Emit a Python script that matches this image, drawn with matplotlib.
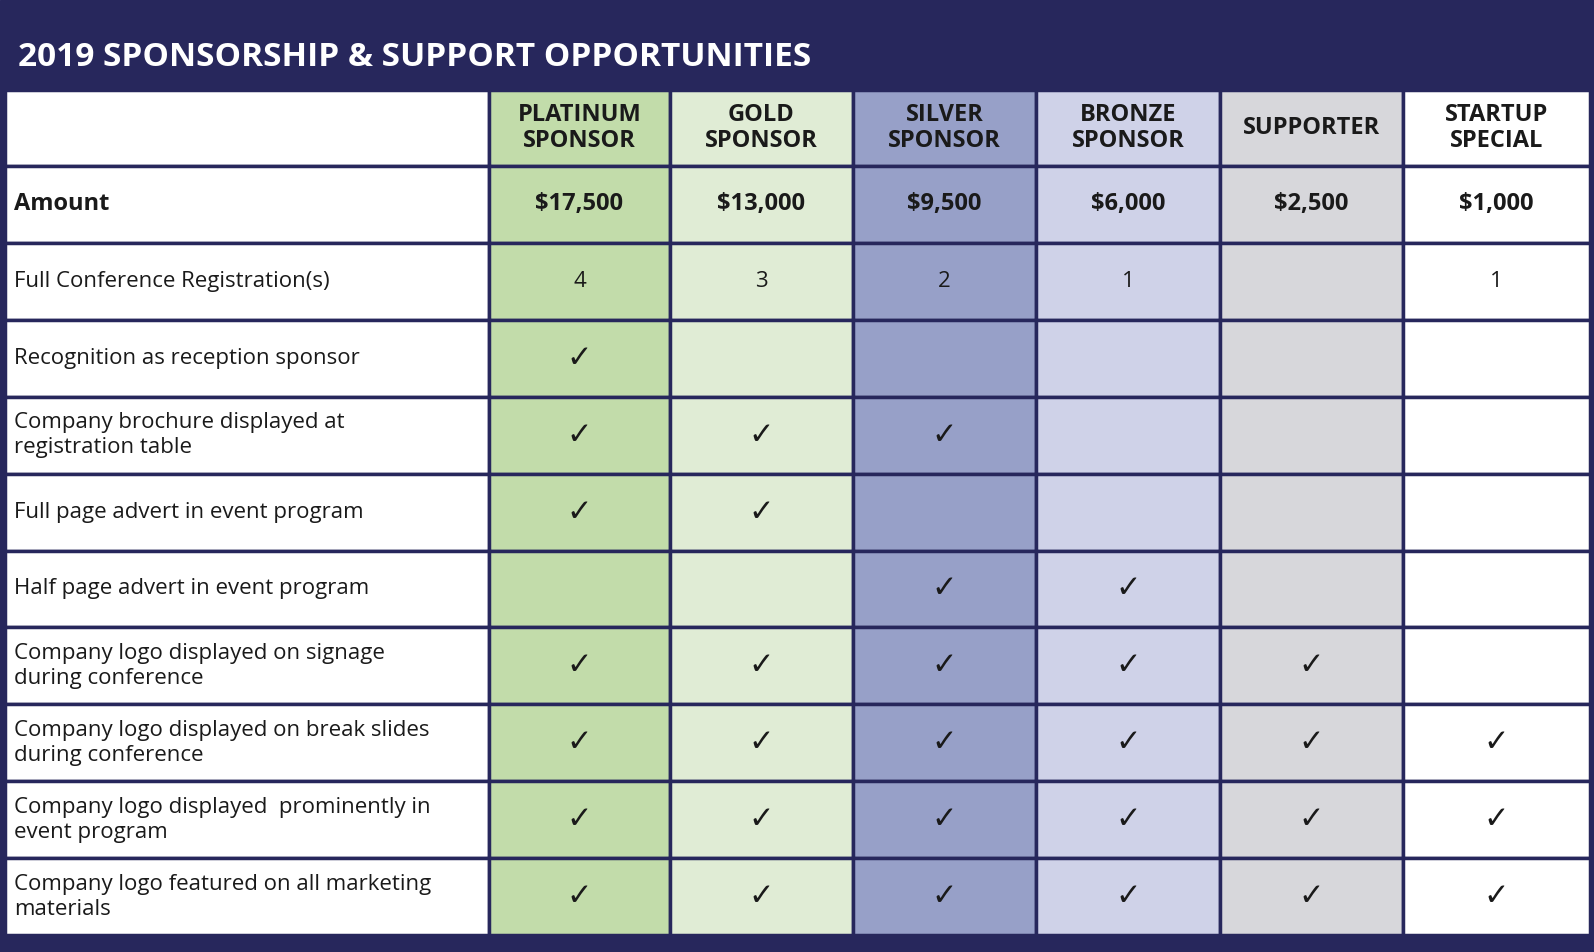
import matplotlib
matplotlib.use("Agg")
import matplotlib.pyplot as plt
from matplotlib.patches import Rectangle

# data
title = "2019 SPONSORSHIP & SUPPORT OPPORTUNITIES"
tiers = ["PLATINUM\nSPONSOR", "GOLD\nSPONSOR", "SILVER\nSPONSOR", "BRONZE\nSPONSOR", "SUPPORTER", "STARTUP\nSPECIAL"]
amounts = ["$17,500", "$13,000", "$9,500", "$6,000", "$2,500", "$1,000"]
features = ["Full Conference Registration(s)",
            "Recognition as reception sponsor",
            "Company brochure displayed at\nregistration table",
            "Full page advert in event program",
            "Half page advert in event program",
            "Company logo displayed on signage\nduring conference",
            "Company logo displayed on break slides\nduring conference",
            "Company logo displayed  prominently in\nevent program",
            "Company logo featured on all marketing\nmaterials"]
registrations = ["4", "3", "2", "1", "", "1"]
# 1 = tick, 0 = empty (rows after registrations)
ticks = [[1, 0, 0, 0, 0, 0],
         [1, 1, 1, 0, 0, 0],
         [1, 1, 0, 0, 0, 0],
         [0, 0, 1, 1, 0, 0],
         [1, 1, 1, 1, 1, 0],
         [1, 1, 1, 1, 1, 1],
         [1, 1, 1, 1, 1, 1],
         [1, 1, 1, 1, 1, 1]]

navy = "#27275c"
colcolors = ["#c2dcaa", "#e0ecd5", "#97a0c8", "#cfd2e8", "#d7d7db", "#ffffff"]

W, H = 1594, 952
fig = plt.figure(figsize=(W / 100, H / 100), dpi=100)
ax = fig.add_axes([0, 0, 1, 1])
ax.set_xlim(0, W)
ax.set_ylim(H, 0)
ax.axis("off")

ax.add_patch(Rectangle((0, 0), W, H, color=navy))
ax.text(18, 58, title, color="white", fontsize=24, fontweight="bold",
        family="Open Sans", va="center", ha="left")

xs = [5, 489, 670, 853, 1036, 1220, 1403, 1590]
head_top, head_bot = 90, 166
row_h = (935 - head_bot) / 10.0
ys = [head_top, head_bot] + [head_bot + row_h * (i + 1) for i in range(10)]

nrows = len(ys) - 1
for r in range(nrows):
    for c in range(len(xs) - 1):
        fc = "white" if c == 0 else colcolors[c - 1]
        ax.add_patch(Rectangle((xs[c], ys[r]), xs[c + 1] - xs[c], ys[r + 1] - ys[r],
                               facecolor=fc, edgecolor=navy, lw=2.5))

def cx(c):
    return (xs[c + 1] + xs[c]) / 2

def cy(r):
    return (ys[r + 1] + ys[r]) / 2

tf = dict(family="Open Sans", color="#1a1a1a")
for i, t in enumerate(tiers):
    ax.text(cx(i + 1), cy(0), t, ha="center", va="center", fontsize=17,
            fontweight="bold", linespacing=1.15, **tf)

ax.text(14, cy(1), "Amount", ha="left", va="center", fontsize=17, fontweight="bold", **tf)
for i, a in enumerate(amounts):
    ax.text(cx(i + 1), cy(1), a, ha="center", va="center", fontsize=17, fontweight="bold", **tf)

for r, f in enumerate(features):
    ax.text(14, cy(r + 2), f, ha="left", va="center", fontsize=16, linespacing=1.25, **tf)

for i, v in enumerate(registrations):
    ax.text(cx(i + 1), cy(2), v, ha="center", va="center", fontsize=16, **tf)

for r, row in enumerate(ticks):
    for i, v in enumerate(row):
        if v:
            ax.text(cx(i + 1), cy(r + 3), "\u2713", ha="center", va="center",
                    fontsize=22, family="DejaVu Sans", color="#1a1a1a")

fig.savefig("out.png", dpi=100)
